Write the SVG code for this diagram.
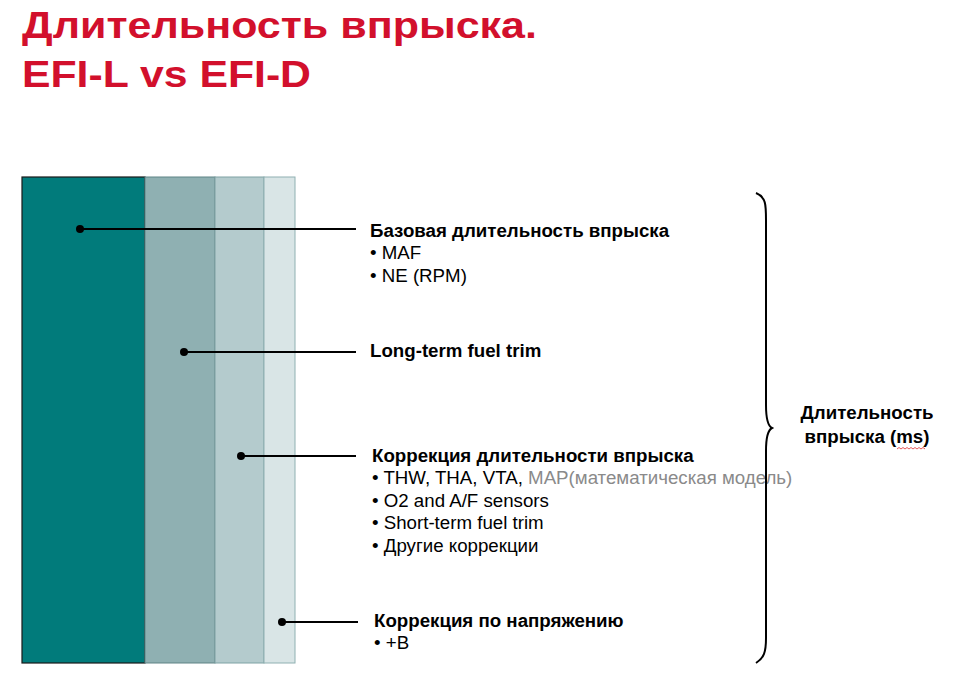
<svg xmlns="http://www.w3.org/2000/svg" width="960" height="679" viewBox="0 0 960 679">
<style>
.title{font-family:"Liberation Sans",Arial,sans-serif;font-weight:bold;font-size:37px;fill:#d2102c}
.h{font-family:"Liberation Sans",Arial,sans-serif;font-weight:bold;font-size:18.7px;fill:#000}
.t{font-family:"Liberation Sans",Arial,sans-serif;font-size:18.7px;fill:#000}
.g{fill:#8a8a8a}
.ln{stroke:#000;stroke-width:2;fill:none}
</style>
<rect width="960" height="679" fill="#fff"/>
<g id="title">
<text class="title" x="22" y="38" textLength="515" lengthAdjust="spacingAndGlyphs">Длительность впрыска.</text>
<text class="title" x="22" y="87" textLength="289" lengthAdjust="spacingAndGlyphs">EFI-L vs EFI-D</text>
</g>
<g id="bars">
<rect id="bar-base" x="22" y="177" width="123" height="486" fill="#017b7b" stroke="#1a1a1a" stroke-width="1.2"/>
<rect id="bar-ltft" x="145" y="177" width="70" height="486" fill="#8fb0b2" stroke="#5e8385" stroke-width="1"/>
<rect id="bar-corr" x="215" y="177" width="49" height="486" fill="#b4cbcd" stroke="#7fa2a4" stroke-width="1"/>
<rect id="bar-volt" x="264" y="177" width="31" height="486" fill="#d9e5e6" stroke="#8fb0b2" stroke-width="1"/>
</g>
<g id="connectors">
<line class="ln" x1="80" y1="229" x2="356" y2="229"/>
<circle cx="80" cy="229" r="4"/>
<line class="ln" x1="184" y1="352" x2="356" y2="352"/>
<circle cx="184" cy="352" r="4"/>
<line class="ln" x1="241" y1="456" x2="356" y2="456"/>
<circle cx="241" cy="456" r="4"/>
<line class="ln" x1="282" y1="622" x2="358" y2="622"/>
<circle cx="282" cy="622" r="4"/>
</g>
<g id="label-base">
<text class="h" x="370" y="237">Базовая длительность впрыска</text>
<text class="t" x="370" y="259">• MAF</text>
<text class="t" x="370" y="282">• NE (RPM)</text>
</g>
<g id="label-ltft">
<text class="h" x="370" y="357">Long-term fuel trim</text>
</g>
<g id="label-corr">
<text class="h" x="372" y="462">Коррекция длительности впрыска</text>
<text class="t" x="372" y="484">• THW, THA, VTA, <tspan class="g">MAP(математическая модель)</tspan></text>
<text class="t" x="372" y="507">• O2 and A/F sensors</text>
<text class="t" x="372" y="529">• Short-term fuel trim</text>
<text class="t" x="372" y="552">• Другие коррекции</text>
</g>
<g id="label-volt">
<text class="h" x="374" y="627">Коррекция по напряжению</text>
<text class="t" x="374" y="649">• +B</text>
</g>
<g id="brace">
<path class="ln" d="M756 193 C766 197 766 205 766 220 L766 405 C766 420 768 426 772 428 C768 430 766 436 766 451 L766 638 C766 652 764 658 756 663" stroke-width="1.8"/>
</g>
<g id="label-total">
<text class="h" x="867" y="419" text-anchor="middle">Длительность</text>
<text class="h" x="867" y="443" text-anchor="middle">впрыска (ms)</text>
<path d="M897 449 l2 -1.5 l2 1.5 l2 -1.5 l2 1.5 l2 -1.5 l2 1.5 l2 -1.5 l2 1.5 l2 -1.5 l2 1.5 l2 -1.5 l2 1.5 l2 -1.5 l2 1.5" fill="none" stroke="#e03030" stroke-width="0.8"/>
</g>
</svg>
